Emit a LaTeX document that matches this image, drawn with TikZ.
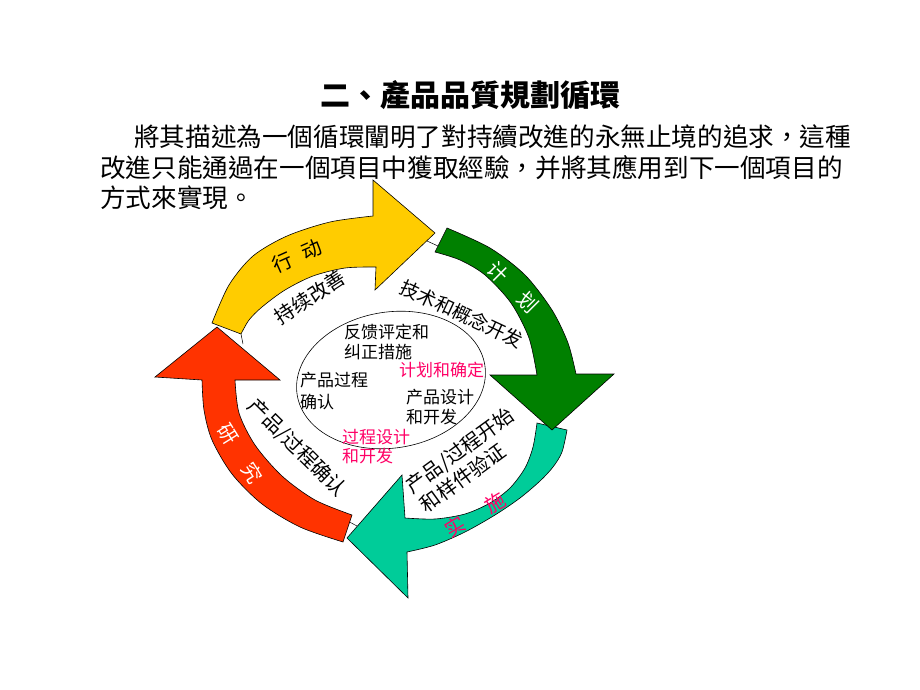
\documentclass[tikz,border=0pt]{standalone}
\usepackage{fontspec}
\newfontfamily\cjktc{Noto Sans CJK TC}
\newfontfamily\cjksc{Noto Sans CJK SC}
\usetikzlibrary{shapes.geometric}
\definecolor{arYellow}{RGB}{255,204,0}
\definecolor{arGreen}{RGB}{0,128,0}
\definecolor{arTeal}{RGB}{0,204,153}
\definecolor{arRed}{RGB}{255,51,0}
\definecolor{pinkTxt}{RGB}{255,0,102}
\begin{document}
\begin{tikzpicture}[x=1pt,y=-1pt,
  lbl/.style={font=\cjksc\fontsize{20}{24}\selectfont, inner sep=0pt},
  etxt/.style={font=\cjksc\fontsize{17}{20}\selectfont, inner sep=0pt, anchor=west},
  para/.style={font=\cjktc\fontsize{25.6}{30}\selectfont, inner sep=0pt, anchor=west},
  arrowshape/.style={draw=black, line width=0.6pt},
  gapline/.style={draw=black, line width=0.5pt},
]
\fill[white] (0,0) rectangle (920,690);
\useasboundingbox (0,0) rectangle (920,690);

% title and paragraph
\node[font=\cjktc\bfseries\fontsize{30}{36}\selectfont, inner sep=0pt] (title) at (470,95) {二、產品品質規劃循環};
\node[para] (p1) at (134,137) {將其描述為一個循環闡明了對持續改進的永無止境的追求，這種};
\node[para] (p2) at (100,168) {改進只能通過在一個項目中獲取經驗，并將其應用到下一個項目的};
\node[para] (p3) at (100,198) {方式來實現。};

% red arrow (研究)
\filldraw[arrowshape, fill=arRed] (343,542) -- plot[smooth] coordinates {(343,542) (300,527) (262,504) (232,474) (212,440) (204,410) (202,380)}
  -- (155,377) -- (217,327) -- (280,380) -- (235,380)
  -- plot[smooth] coordinates {(235,380) (239,413) (255,445) (282,476) (315,500) (352,515)} -- cycle;

% yellow arrow (行动)
\filldraw[arrowshape, fill=arYellow] (212,323) -- plot[smooth] coordinates {(212,323) (229,285) (253,256) (287,236) (330,222) (373,216)}
  -- (373,180) -- (435,233) -- (375,290) -- (376,267)
  -- plot[smooth] coordinates {(376,267) (345,268) (313,276) (285,290) (262,307) (249,320) (241,334)} -- cycle;

% teal arrow (实施)
\filldraw[arrowshape, fill=arTeal] (567,430) -- plot[smooth] coordinates {(567,430) (562,452) (553,467) (540,481) (520,498) (495,515) (465,532) (435,545) (407,552)}
  -- (408,598) -- (347,538) -- (402,475) -- (405,518)
  -- plot[smooth] coordinates {(405,518) (435,519) (465,514) (490,503) (510,488) (525,468) (533,447) (537,423)} -- cycle;

% green arrow (计划)
\filldraw[arrowshape, fill=arGreen] (447,228) -- plot[smooth] coordinates {(447,228) (490,248) (525,275) (552,310) (568,343) (576,374)}
  -- (614,374) -- (552,430) -- (490,375) -- (537,375)
  -- plot[smooth] coordinates {(537,375) (529,338) (511,303) (485,275) (460,260) (435,252)} -- cycle;

% small lines in the gaps
\coordinate (g1a) at (427,241); \coordinate (g1b) at (438,246);
\coordinate (g2a) at (241,334); \coordinate (g2b) at (243,344);
\coordinate (g3a) at (349.5,522); \coordinate (g3b) at (357,526);
\draw[gapline] (g1a) -- (g1b);
\draw[gapline] (g2a) -- (g2b);
\draw[gapline] (g3a) -- (g3b);

% arrow labels
\node[lbl, rotate=24] (act) at (297,256) {行\hspace{0.6em}动};
\node[lbl, rotate=-45, text=white] (plan) at (513,287) {计\hspace{1.1em}划};
\node[lbl, rotate=31, text=pinkTxt] (impl) at (475,515) {实\hspace{1.3em}施};
\node[lbl, rotate=-58, text=white] (res) at (240,453) {研\hspace{1.3em}究};

% ring labels
\node[lbl, rotate=33] (kaizen) at (310,297) {持续改善};
\node[lbl, rotate=-25, font=\cjksc\fontsize{19}{22}\selectfont] (tech) at (462,314) {技术和概念开发};
\node[lbl, rotate=-44.6] (valid) at (297,448) {产品/过程确认};
\node[lbl, rotate=36, align=left, font=\cjksc\fontsize{20}{24}\selectfont] (proto) at (467,460) {产品/过程开始\\和样件验证};

% inner ellipse
\node[draw=black, line width=0.6pt, ellipse, minimum width=190pt, minimum height=136pt, inner sep=0pt, rotate=9] (loop) at (391,380) {};

\node[etxt] (e1) at (344,332) {反馈评定和};
\node[etxt] (e2) at (344,352) {纠正措施};
\node[etxt, text=pinkTxt] (e3) at (399,370) {计划和确定};
\node[etxt] (e4) at (300,380) {产品过程};
\node[etxt] (e5) at (300,402) {确认};
\node[etxt] (e6) at (406,397) {产品设计};
\node[etxt] (e7) at (406,417) {和开发};
\node[etxt, text=pinkTxt] (e8) at (342,437) {过程设计};
\node[etxt, text=pinkTxt] (e9) at (342,456) {和开发};
\end{tikzpicture}
\end{document}
